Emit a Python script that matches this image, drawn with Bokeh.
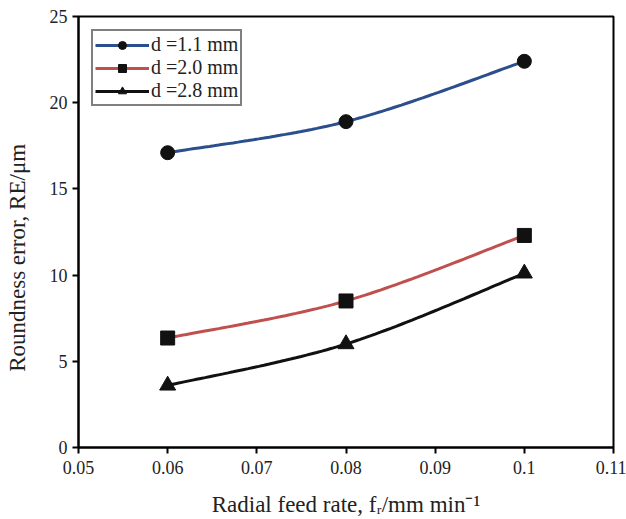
import numpy as np
from bokeh.plotting import figure
from bokeh.models import Range1d, FixedTicker, Legend, LegendItem
from bokeh.embed import file_html
from bokeh.resources import INLINE

# ---- data ----
feed_rate = [0.06, 0.08, 0.10]
re_d11 = [17.1, 18.9, 22.4]
re_d20 = [6.35, 8.5, 12.3]
re_d28 = [3.6, 6.0, 10.1]
series_labels = ["d =1.1 mm", "d =2.0 mm", "d =2.8 mm"]
x_ticks = [0.05, 0.06, 0.07, 0.08, 0.09, 0.10, 0.11]
x_tick_labels = ["0.05", "0.06", "0.07", "0.08", "0.09", "0.1", "0.11"]
y_ticks = [0, 5, 10, 15, 20, 25]
x_title = "Radial feed rate, f\u1d63/mm min\u207b\u00b9"
y_title = "Roundness error, RE/\u03bcm" + "\u00a0" * 9

FONT = "Liberation Serif"
BLUE = "#2A4F8C"
RED = "#C0504D"
BLACK = "#111111"

X0, X1, Y0, Y1 = 0.05, 0.11, 0.0, 25.0
FL, FR, FT, FB = 78, 613, 16, 447  # frame edges in pixels
PXX = (FR - FL) / (X1 - X0)
PXY = (FB - FT) / (Y1 - Y0)


def smooth(xs, ys, n=40):
    P = np.column_stack([np.asarray(xs) * PXX, np.asarray(ys) * PXY])
    m = len(P)
    out = []
    for i in range(m - 1):
        p0 = P[i - 1] if i > 0 else P[i]
        p1 = P[i]
        p2 = P[i + 1]
        p3 = P[i + 2] if i + 2 < m else P[i + 1]
        c1 = p1 + (p2 - p0) / 6.0
        c2 = p2 - (p3 - p1) / 6.0
        t = np.linspace(0, 1, n)[:, None]
        seg = ((1 - t) ** 3) * p1 + 3 * ((1 - t) ** 2) * t * c1 + 3 * (1 - t) * t ** 2 * c2 + t ** 3 * p2
        out.append(seg if i == 0 else seg[1:])
    B = np.vstack(out)
    return B[:, 0] / PXX, B[:, 1] / PXY


p = figure(width=626, height=519, output_backend="svg", toolbar_location=None,
           x_range=Range1d(X0, X1), y_range=Range1d(Y0, Y1),
           min_border_left=FL, min_border_right=626 - FR, min_border_top=FT, min_border_bottom=519 - FB)
p.background_fill_color = "white"
p.border_fill_color = "white"
p.outline_line_color = "black"
p.outline_line_width = 2
p.xgrid.visible = False
p.ygrid.visible = False

for ax in (p.xaxis[0], p.yaxis[0]):
    ax.axis_line_width = 2
    ax.axis_line_color = "black"
    ax.major_tick_line_width = 2
    ax.major_tick_line_color = "black"
    ax.major_tick_out = 6
    ax.major_tick_in = 0
    ax.minor_tick_line_color = None
    ax.major_label_text_font = FONT
    ax.major_label_text_font_size = "18px"
    ax.major_label_text_color = "#222222"
    ax.axis_label_text_font = FONT
    ax.axis_label_text_font_size = "23px"
    ax.axis_label_text_font_style = "normal"
    ax.axis_label_text_color = "#222222"

p.xaxis[0].ticker = FixedTicker(ticks=x_ticks)
p.xaxis[0].major_label_overrides = {t: l for t, l in zip(x_ticks, x_tick_labels)}
p.xaxis[0].major_label_standoff = 7
p.xaxis[0].axis_label = x_title
p.xaxis[0].axis_label_standoff = 15
p.yaxis[0].ticker = FixedTicker(ticks=y_ticks)
p.yaxis[0].major_label_standoff = 5
p.yaxis[0].axis_label = y_title
p.yaxis[0].axis_label_standoff = 17

items = []
specs = [(re_d11, BLUE, "circle", 14), (re_d20, RED, "square", 14), (re_d28, BLACK, "triangle", 16)]
for (ys, col, mk, sz), lab in zip(specs, series_labels):
    sx, sy = smooth(feed_rate, ys)
    r1 = p.line(sx, sy, line_color=col, line_width=3)
    r2 = p.scatter(feed_rate, ys, marker=mk, size=sz, fill_color=BLACK, line_color=BLACK)
    items.append(LegendItem(label=lab, renderers=[r1, r2]))

legend = Legend(items=items, location="top_left")
legend.margin = 13
legend.padding = 2
legend.spacing = -2
legend.glyph_width = 54
legend.glyph_height = 20
legend.label_standoff = 2
legend.label_text_font = FONT
legend.label_text_font_size = "20px"
legend.label_text_color = "#222222"
legend.label_height = 20
legend.border_line_color = "black"
legend.border_line_width = 2
legend.background_fill_alpha = 1
p.add_layout(legend, "center")

open("out.html", "w").write(file_html(p, INLINE))
